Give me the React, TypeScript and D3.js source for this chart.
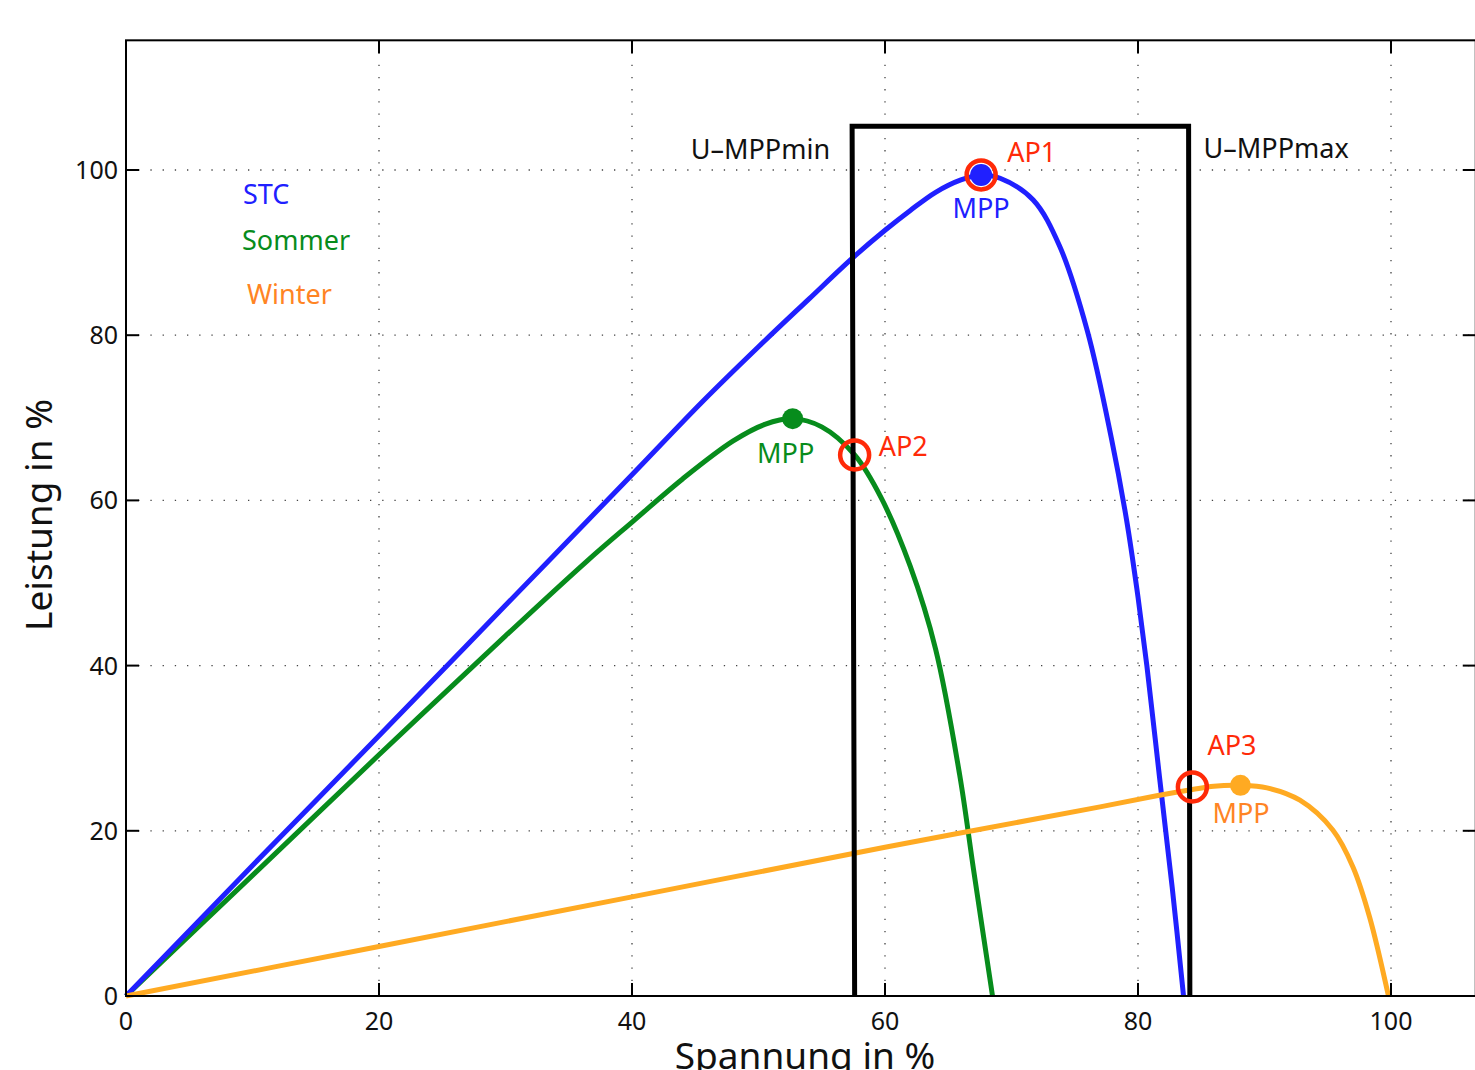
import React from 'react'
import * as d3 from 'd3'

// Kennlinien (Spannung in %, Leistung in %)
const uSTC = [0, 10, 20, 30, 40, 45.6, 50, 54, 57.4, 60, 62, 64, 66, 67.6, 69.1, 71.7, 73.8, 76.0, 77.9, 79.1, 79.9, 80.7, 81.7, 82.7, 83.6]
const pSTC = [0, 15.8, 31.5, 47.3, 63.1, 72.0, 78.6, 84.4, 89.3, 92.7, 95.1, 97.3, 98.8, 99.4, 99.0, 96.4, 90.8, 80.5, 67.5, 57.6, 49.4, 40.0, 26.5, 13.2, 0]

const uSommer = [0, 10, 20, 30, 36.4, 40.1, 44, 48, 50.5, 52.7, 55, 57.6, 59.7, 62, 64, 65.9, 67.0, 68.5]
const pSommer = [0, 14.6, 29.2, 43.6, 52.6, 57.5, 62.6, 67.2, 69.2, 69.9, 68.9, 65.5, 60.3, 52, 42, 26.8, 15.3, 0]

const uWinter = [0, 20, 40, 60, 77, 81.7, 84.3, 86, 88.1, 90.2, 92.8, 95.4, 97, 98.3, 99.8]
const pWinter = [0, 6.0, 12.0, 18.0, 22.9, 24.3, 25.0, 25.4, 25.5, 25.2, 23.7, 20.1, 15.6, 9.6, 0]

// MPP-Bereich des Wechselrichters
const boxU = [57.6, 57.4, 84.0, 84.1]
const boxP = [0, 105.3, 105.3, 0]

const mppU = [67.6, 52.7, 88.1]
const mppP = [99.4, 69.9, 25.5]
const apNames = ['AP1', 'AP2', 'AP3']
const apU = [67.6, 57.6, 84.3]
const apP = [99.4, 65.5, 25.3]

const xTicks = [0, 20, 40, 60, 80, 100]
const yTicks = [0, 20, 40, 60, 80, 100]

const BLUE = '#2020ff'
const GREEN = '#078c1c'
const ORANGE = '#ffaa22'
const ORANGE_TXT = '#ff8424'
const RED = '#ff2a08'

const FONT = '"Noto Sans", "DejaVu Sans", sans-serif'

const App = () => {
  const width = 1475
  const height = 1070
  const xMax = 106.7
  const yMax = 115.7

  const x = d3.scaleLinear().domain([0, 100]).range([126, 1391])
  const y = d3.scaleLinear().domain([0, 100]).range([996, 170])

  const line = d3.line<[number, number]>()
    .x(d => x(d[0]))
    .y(d => y(d[1]))
    .curve(d3.curveCatmullRom.alpha(0.5))

  const straight = d3.line<[number, number]>()
    .x(d => x(d[0]))
    .y(d => y(d[1]))

  const series = [
    {u: uSommer, p: pSommer, color: GREEN},
    {u: uSTC, p: pSTC, color: BLUE},
    {u: uWinter, p: pWinter, color: ORANGE}
  ]

  const mppColors = [BLUE, GREEN, ORANGE]
  const mppText = [BLUE, GREEN, ORANGE_TXT]
  // Beschriftungs-Versatz in Pixeln
  const mppDx = [0, -7, 26]
  const mppDy = [43, 44, 38]
  const apDx = [26, 24, 15]
  const apDy = [-13, 1, -32]

  const grid = '1.3 10.9'

  return (
    <svg width={width} height={height} style={{position: 'absolute', left: 0, top: 0, background: '#fff'}}
      fontFamily={FONT}>
      <rect x={0} y={0} width={width} height={height} fill="#fff"/>

      {/* Gitter */}
      <g stroke="#444" strokeWidth={1.3} strokeDasharray={grid}>
        {xTicks.filter(t => t > 0).map(t =>
          <line key={'gx' + t} x1={x(t)} x2={x(t)} y1={y(yMax)} y2={y(0)}/>
        )}
        {yTicks.filter(t => t > 0).map(t =>
          <line key={'gy' + t} x1={x(0)} x2={x(xMax)} y1={y(t)} y2={y(t)}/>
        )}
      </g>

      {/* Kurven */}
      {series.map((s, i) =>
        <path key={i} d={line(d3.zip(s.u, s.p) as [number, number][]) || ''} fill="none"
          stroke={s.color} strokeWidth={5} strokeLinejoin="round"/>
      )}

      {/* MPP-Spannungsbereich */}
      <path d={straight(d3.zip(boxU, boxP) as [number, number][]) || ''} fill="none" stroke="#000"
        strokeWidth={5} strokeLinejoin="miter"/>

      {/* Rahmen und Ticks */}
      <g stroke="#000" strokeWidth={2} fill="none">
        <rect x={x(0)} y={y(yMax)} width={x(xMax) - x(0)} height={y(0) - y(yMax)}/>
        {xTicks.map(t =>
          <g key={'tx' + t}>
            <line x1={x(t)} x2={x(t)} y1={y(0)} y2={y(0) - 13}/>
            <line x1={x(t)} x2={x(t)} y1={y(yMax)} y2={y(yMax) + 13}/>
          </g>
        )}
        {yTicks.map(t =>
          <g key={'ty' + t}>
            <line x1={x(0)} x2={x(0) + 13} y1={y(t)} y2={y(t)}/>
            <line x1={x(xMax)} x2={x(xMax) - 13} y1={y(t)} y2={y(t)}/>
          </g>
        )}
      </g>

      <g fontSize={25} fill="#111">
        {xTicks.map(t =>
          <text key={'lx' + t} x={x(t)} y={1030} textAnchor="middle">{t}</text>
        )}
        {yTicks.map(t =>
          <text key={'ly' + t} x={118} y={y(t) + 9} textAnchor="end">{t}</text>
        )}
      </g>

      {/* Arbeitspunkte */}
      {mppU.map((u, i) =>
        <circle key={'mpp' + i} cx={x(u)} cy={y(mppP[i])} r={i === 0 ? 11 : 10.5} fill={mppColors[i]}/>
      )}
      {apU.map((u, i) =>
        <circle key={'ap' + i} cx={x(u)} cy={y(apP[i])} r={14.5} fill="none" stroke={RED} strokeWidth={4.5}/>
      )}

      <g fontSize={27}>
        {mppU.map((u, i) =>
          <text key={'mt' + i} x={x(u) + mppDx[i]} y={y(mppP[i]) + mppDy[i]}
            textAnchor={i === 2 ? 'start' : 'middle'} fill={mppText[i]}
            dx={i === 2 ? -54 : 0}>MPP</text>
        )}
        {apU.map((u, i) =>
          <text key={'at' + i} x={x(u) + apDx[i]} y={y(apP[i]) + apDy[i]} fill={RED}>{apNames[i]}</text>
        )}
        <text x={x(boxU[1]) - 22} y={159} textAnchor="end" fill="#111">U–MPPmin</text>
        <text x={x(boxU[2]) + 15} y={158} fill="#111">U–MPPmax</text>

        <text x={243} y={204} fill={BLUE}>STC</text>
        <text x={242} y={250} fill={GREEN}>Sommer</text>
        <text x={247} y={304} fill={ORANGE_TXT}>Winter</text>
      </g>

      {/* Achsenbeschriftung */}
      <text x={805} y={1069} textAnchor="middle" fontSize={37} fill="#111">Spannung in %</text>
      <text transform={`translate(52, 515) rotate(-90)`} textAnchor="middle" fontSize={37} fill="#111">Leistung in %</text>
    </svg>
  )
}

export default App
